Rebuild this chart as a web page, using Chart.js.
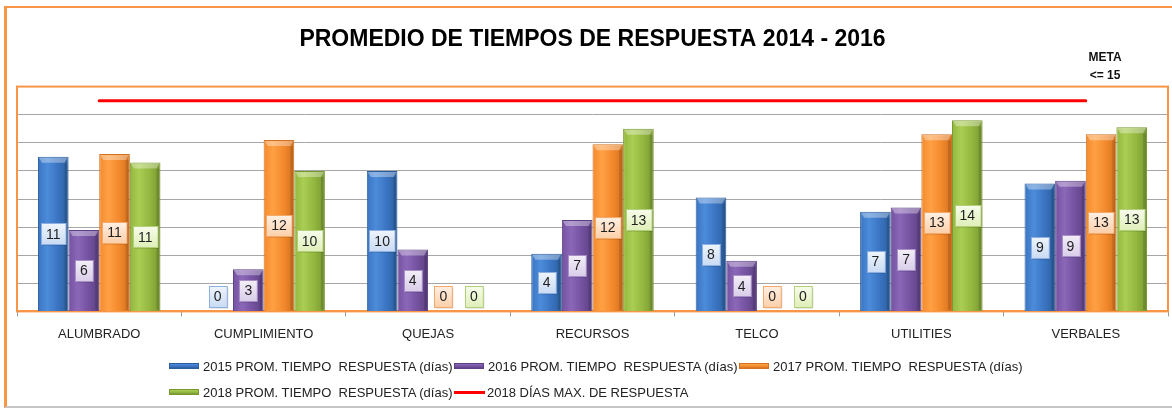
<!DOCTYPE html>
<html lang="es">

<head>
    <meta charset="UTF-8">
    <title>Promedio de tiempos de respuesta</title>
    <script src="https://cdn.jsdelivr.net/npm/chart.js"></script>
    <style>
        body { margin: 0; background: #fff; font-family: "Liberation Sans", Arial, sans-serif; }
        .contenedor { position: relative; width: 1172px; height: 409px; overflow: hidden; }
        .marco { position: absolute; left: 4px; top: 6px; width: 1200px; height: 398px;
                 border-left: 3px solid #F79646; border-top: 2px solid #F79646; border-bottom: 2px solid #c6c6c6; pointer-events: none; }
        .meta { position: absolute; left: 1080px; width: 50px; top: 48px; text-align: center;
                font-weight: bold; font-size: 12px; line-height: 18px; color: #111; }
        #leyenda { position: absolute; left: 169px; top: 357px; display: grid;
                   grid-template-columns: 285px 285px 285px; row-gap: 8px; }
        .item { display: flex; align-items: center; height: 18px; font-size: 13px; color: #222; white-space: pre; }
        .muestra { width: 28px; height: 4px; margin-right: 4px; }
        .linea { width: 31px; height: 3px; background: #ff0000; margin-right: 2px; }
    </style>
</head>

<body>
    <div class="contenedor">
        <canvas id="grafico" width="1172" height="409"></canvas>
        <div class="marco"></div>
        <div class="meta">META<br>&lt;= 15</div>
        <div id="leyenda"></div>
    </div>

    <script>
        const categorias = ['ALUMBRADO', 'CUMPLIMIENTO', 'QUEJAS', 'RECURSOS', 'TELCO', 'UTILITIES', 'VERBALES'];
        const prom2015 = [11.0, 0, 10.0, 4.1, 8.1, 7.1, 9.1];
        const prom2016 = [5.8, 3.0, 4.4, 6.5, 3.6, 7.4, 9.3];
        const prom2017 = [11.2, 12.2, 0, 11.9, 0, 12.6, 12.6];
        const prom2018 = [10.6, 10.0, 0, 13.0, 0, 13.6, 13.1];
        const diasMax2018 = [15, 15, 15, 15, 15, 15, 15];
        const ticksY = { min: 0, max: 16, paso: 2 };

        const etiquetas = [
            '2015 PROM. TIEMPO  RESPUESTA (días)',
            '2016 PROM. TIEMPO  RESPUESTA (días)',
            '2017 PROM. TIEMPO  RESPUESTA (días)',
            '2018 PROM. TIEMPO  RESPUESTA (días)',
            '2018 DÍAS MAX. DE RESPUESTA'
        ];

        // colores de barras y de las cajas de etiquetas
        const colores = [
            { oscuro: '#2C5E9C', claro: '#4C8CDA', medio: '#3A74C2', cajaA: '#EEF4FC', cajaB: '#C9DBF3', borde: '#8DB0E0' },
            { oscuro: '#5C4082', claro: '#8B67B8', medio: '#7452A0', cajaA: '#F3EEF8', cajaB: '#D9CDE9', borde: '#A690C6' },
            { oscuro: '#D2701E', claro: '#FFA044', medio: '#F38A2D', cajaA: '#FFF0E3', cajaB: '#FCCFA9', borde: '#F4A86A' },
            { oscuro: '#789832', claro: '#AACD53', medio: '#93B73F', cajaA: '#F7FCEB', cajaB: '#DFEFB8', borde: '#B2D07A' }
        ];

        const PCT_CATEGORIA = 0.745;
        Chart.defaults.font.family = '"Liberation Sans", Arial, sans-serif';

        function degradado(ctx, i) {
            const c = colores[i];
            const x = ctx.chart.scales.x;
            if (ctx.type !== 'data' || !x || !isFinite(x.left) || x.right <= x.left) return c.medio;
            const ancho = (x.right - x.left) / categorias.length;
            const grupo = ancho * PCT_CATEGORIA;
            const izq = x.getPixelForValue(ctx.dataIndex) - grupo / 2 + i * grupo / 4;
            const g = ctx.chart.ctx.createLinearGradient(izq, 0, izq + grupo / 4, 0);
            g.addColorStop(0, c.medio);
            g.addColorStop(0.3, c.claro);
            g.addColorStop(0.65, c.medio);
            g.addColorStop(1, c.oscuro);
            return g;
        }

        function serieBarras(i, datos) {
            return {
                type: 'bar',
                label: etiquetas[i],
                data: datos,
                backgroundColor: (ctx) => degradado(ctx, i),
                borderColor: colores[i].oscuro,
                borderWidth: 1,
                barPercentage: 1,
                categoryPercentage: PCT_CATEGORIA,
                order: 2
            };
        }

        // marco naranja del area de trazado
        const marcoArea = {
            id: 'marcoArea',
            beforeDatasetsDraw(chart) {
                const { ctx, chartArea: a } = chart;
                ctx.save();
                ctx.strokeStyle = '#F79646';
                ctx.lineWidth = 2;
                ctx.strokeRect(a.left, a.top, a.right - a.left, a.bottom - a.top);
                ctx.restore();
            }
        };

        // bisel superior de las barras y cajas con el valor
        const etiquetasBarras = {
            id: 'etiquetasBarras',
            afterDatasetsDraw(chart) {
                const ctx = chart.ctx;
                ctx.save();
                for (let i = 0; i < 4; i++) {
                    const meta = chart.getDatasetMeta(i);
                    meta.data.forEach((bar, j) => {
                        const v = chart.data.datasets[i].data[j];
                        if (v <= 0) return;
                        const x0 = bar.x - bar.width / 2, x1 = bar.x + bar.width / 2;
                        ctx.fillStyle = 'rgba(255,255,255,0.35)';
                        ctx.beginPath();
                        ctx.moveTo(x0 + 1, bar.y + 1);
                        ctx.lineTo(x1 - 1, bar.y + 1);
                        ctx.lineTo(x1 - 4, bar.y + 6);
                        ctx.lineTo(x0 + 4, bar.y + 6);
                        ctx.closePath();
                        ctx.fill();
                        ctx.fillStyle = 'rgba(0,0,0,0.12)';
                        ctx.fillRect(x1 - 4, bar.y + 6, 3, bar.base - bar.y - 7);
                    });
                }
                ctx.font = '14px "Liberation Sans", Arial, sans-serif';
                ctx.textAlign = 'center';
                ctx.textBaseline = 'middle';
                for (let i = 0; i < 4; i++) {
                    const meta = chart.getDatasetMeta(i);
                    const c = colores[i];
                    meta.data.forEach((bar, j) => {
                        const v = chart.data.datasets[i].data[j];
                        const texto = String(Math.round(v));
                        const cy = v > 0 ? (bar.y + bar.base) / 2 : bar.base - 15;
                        const w = ctx.measureText(texto).width + 10, h = 21;
                        const bx = Math.round(bar.x - w / 2) + 0.5, by = Math.round(cy - h / 2) + 0.5;
                        ctx.fillStyle = 'rgba(0,0,0,0.18)';
                        ctx.fillRect(bx + 1, by + 1, w, h);
                        const g = ctx.createLinearGradient(0, by, 0, by + h);
                        g.addColorStop(0, c.cajaA);
                        g.addColorStop(1, c.cajaB);
                        ctx.fillStyle = g;
                        ctx.fillRect(bx, by, w, h);
                        ctx.strokeStyle = c.borde;
                        ctx.lineWidth = 1;
                        ctx.strokeRect(bx, by, w, h);
                        ctx.fillStyle = '#1e1e1e';
                        ctx.fillText(texto, bar.x, cy + 1);
                    });
                }
                ctx.restore();
            }
        };

        const grafico = new Chart(document.getElementById('grafico'), {
            data: {
                labels: categorias,
                datasets: [
                    serieBarras(0, prom2015),
                    serieBarras(1, prom2016),
                    serieBarras(2, prom2017),
                    serieBarras(3, prom2018),
                    {
                        type: 'line',
                        label: etiquetas[4],
                        data: diasMax2018,
                        borderColor: '#FF0000',
                        borderWidth: 3,
                        borderCapStyle: 'round',
                        pointRadius: 0,
                        order: 1
                    }
                ]
            },
            options: {
                responsive: false,
                animation: false,
                layout: { padding: { left: 17, right: 4, top: 0, bottom: 57 } },
                plugins: {
                    legend: { display: false },
                    tooltip: { enabled: false },
                    title: {
                        display: true,
                        text: 'PROMEDIO DE TIEMPOS DE RESPUESTA 2014 - 2016',
                        color: '#000',
                        font: { size: 23, weight: 'bold' },
                        padding: { top: 26, bottom: 33 }
                    }
                },
                scales: {
                    x: {
                        offset: true,
                        grid: { drawOnChartArea: false, tickLength: 5, color: '#9c9c9c' },
                        border: { color: '#F79646', width: 2 },
                        ticks: { color: '#222', font: { size: 13 }, padding: 10, maxRotation: 0 }
                    },
                    y: {
                        min: ticksY.min,
                        max: ticksY.max,
                        ticks: { stepSize: ticksY.paso, display: false },
                        grid: { color: '#a6a6a6', drawTicks: false },
                        border: { display: false }
                    }
                }
            },
            plugins: [marcoArea, etiquetasBarras]
        });
        grafico.update();

        // leyenda en dos filas como en la hoja original
        const leyenda = document.getElementById('leyenda');
        grafico.data.datasets.forEach((ds, i) => {
            const item = document.createElement('div');
            item.className = 'item';
            const m = document.createElement('span');
            if (ds.type === 'line') {
                m.className = 'linea';
            } else {
                const c = colores[i];
                m.className = 'muestra';
                m.style.background = 'linear-gradient(to bottom, ' + c.claro + ', ' + c.medio + ' 60%, ' + c.oscuro + ')';
                m.style.border = '1px solid ' + c.oscuro;
            }
            item.appendChild(m);
            item.appendChild(document.createTextNode(ds.label));
            leyenda.appendChild(item);
        });
    </script>

</body>

</html>
